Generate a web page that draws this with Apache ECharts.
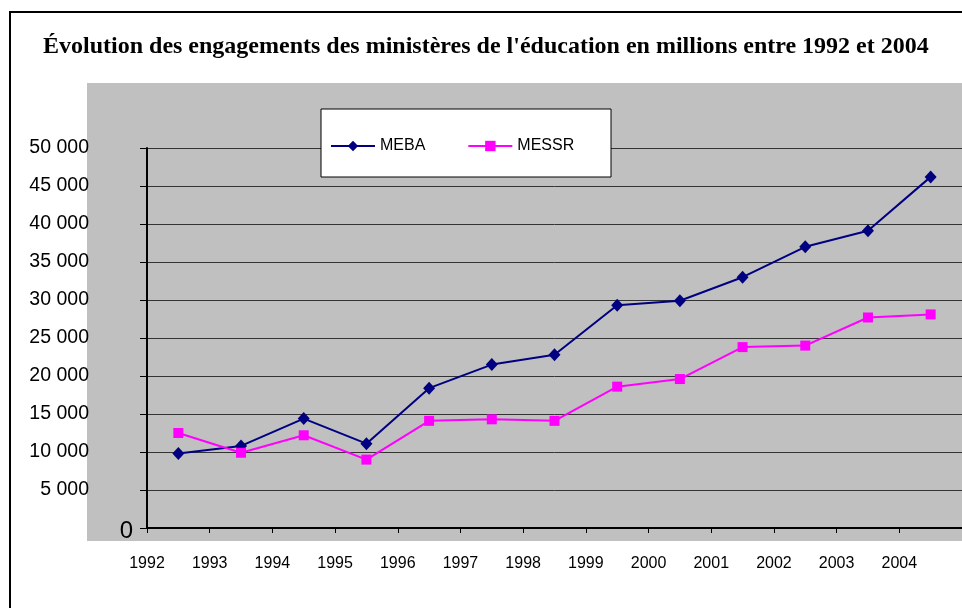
<!DOCTYPE html>
<html>
<head>
<meta charset="utf-8">
<title>Engagements des ministères</title>
<script src="https://cdn.jsdelivr.net/npm/echarts@6/dist/echarts.min.js"></script>
<style>
  html, body { margin: 0; padding: 0; background: #fff; }
  #main { width: 962px; height: 608px; }
</style>
</head>
<body>
<div id="main"></div>
<script>
// années (une par point), en millions
var annees = [1992, 1993, 1994, 1995, 1996, 1997, 1998, 1999, 2000, 2001, 2002, 2003, 2004];
var meba = [9800, 10800, 14400, 11100, 18400, 21500, 22800, 29300, 29900, 33000, 37000, 39100, 46200];
var messr = [12500, 9900, 12200, 9000, 14100, 14300, 14100, 18600, 19600, 23800, 24000, 27700, 28100];
var nomsSeries = ['MEBA', 'MESSR'];
var titre = "Évolution des engagements des ministères de l'éducation en millions entre 1992 et 2004";

// les points sont au milieu de chaque année, les étiquettes sur les graduations
function points(valeurs) {
    var res = [];
    for (var i = 0; i < annees.length; i++) {
        res.push([annees[i] + 0.5, valeurs[i]]);
    }
    return res;
}

// 50000 -> "50 000"
function milliers(v) {
    return String(v).replace(/\B(?=(\d{3})+(?!\d))/g, ' ');
}

var myChart = echarts.init(document.getElementById('main'));

var option = {
    animation: false,
    backgroundColor: '#ffffff',
    textStyle: { fontFamily: 'Liberation Sans, Arial, sans-serif' },
    title: {
        text: titre,
        left: 43,
        top: 35,
        padding: 0,
        textStyle: {
            fontFamily: 'Liberation Serif, Times New Roman, serif',
            fontWeight: 'bold',
            fontSize: 24,
            color: '#000'
        }
    },
    graphic: [
        // cadre extérieur
        { type: 'rect', z: -20, shape: { x: 10, y: 12, width: 1000, height: 700 },
          style: { fill: 'none', stroke: '#000', lineWidth: 2 } },
        // zone grise
        { type: 'rect', z: -10, shape: { x: 87, y: 83, width: 900, height: 458 },
          style: { fill: '#c0c0c0' } },
        // cadre de la légende
        { type: 'rect', z: 3, shape: { x: 321, y: 109, width: 290, height: 68 },
          style: { fill: '#ffffff', stroke: '#000', lineWidth: 1 } }
    ],
    legend: {
        data: nomsSeries,
        left: 330,
        top: 138,
        padding: 0,
        itemWidth: 44,
        itemHeight: 13,
        itemGap: 42,
        textStyle: { fontSize: 16, color: '#000', fontFamily: 'Liberation Sans, Arial, sans-serif' }
    },
    grid: { left: 147, top: 148, width: 819, height: 380, containLabel: false },
    xAxis: {
        type: 'value',
        min: 1992,
        max: 2005,
        interval: 1,
        axisLine: { lineStyle: { color: '#000', width: 2 } },
        axisTick: { length: 5, lineStyle: { color: '#000', width: 1 } },
        axisLabel: {
            margin: 28,
            fontSize: 16,
            color: '#000',
            showMaxLabel: false,
            formatter: function (v) { return String(v); }
        },
        splitLine: { show: false }
    },
    yAxis: {
        type: 'value',
        min: 0,
        max: 50000,
        interval: 5000,
        axisLine: { show: true, lineStyle: { color: '#000', width: 2 } },
        axisTick: { show: true, length: 7, lineStyle: { color: '#000', width: 1 } },
        axisLabel: {
            margin: 14,
            color: '#000',
            formatter: function (v) {
                if (v === 0) return '{z|0}';
                return '{n|' + milliers(v) + '}';
            },
            rich: {
                n: { fontSize: 19.5, color: '#000', padding: [0, 44, 0, 0] },
                z: { fontSize: 24, color: '#000', padding: [6, 0, 0, 0] }
            }
        },
        splitLine: { show: true, lineStyle: { color: '#333', width: 1 } }
    },
    series: [
        {
            name: nomsSeries[0],
            type: 'line',
            data: points(meba),
            symbol: 'diamond',
            symbolSize: [12, 13],
            itemStyle: { color: '#000080' },
            lineStyle: { color: '#000080', width: 2 }
        },
        {
            name: nomsSeries[1],
            type: 'line',
            data: points(messr),
            symbol: 'rect',
            symbolSize: 10,
            itemStyle: { color: '#ff00ff' },
            lineStyle: { color: '#ff00ff', width: 2 }
        }
    ]
};

myChart.setOption(option);
window.onresize = myChart.resize;
</script>
</body>
</html>
